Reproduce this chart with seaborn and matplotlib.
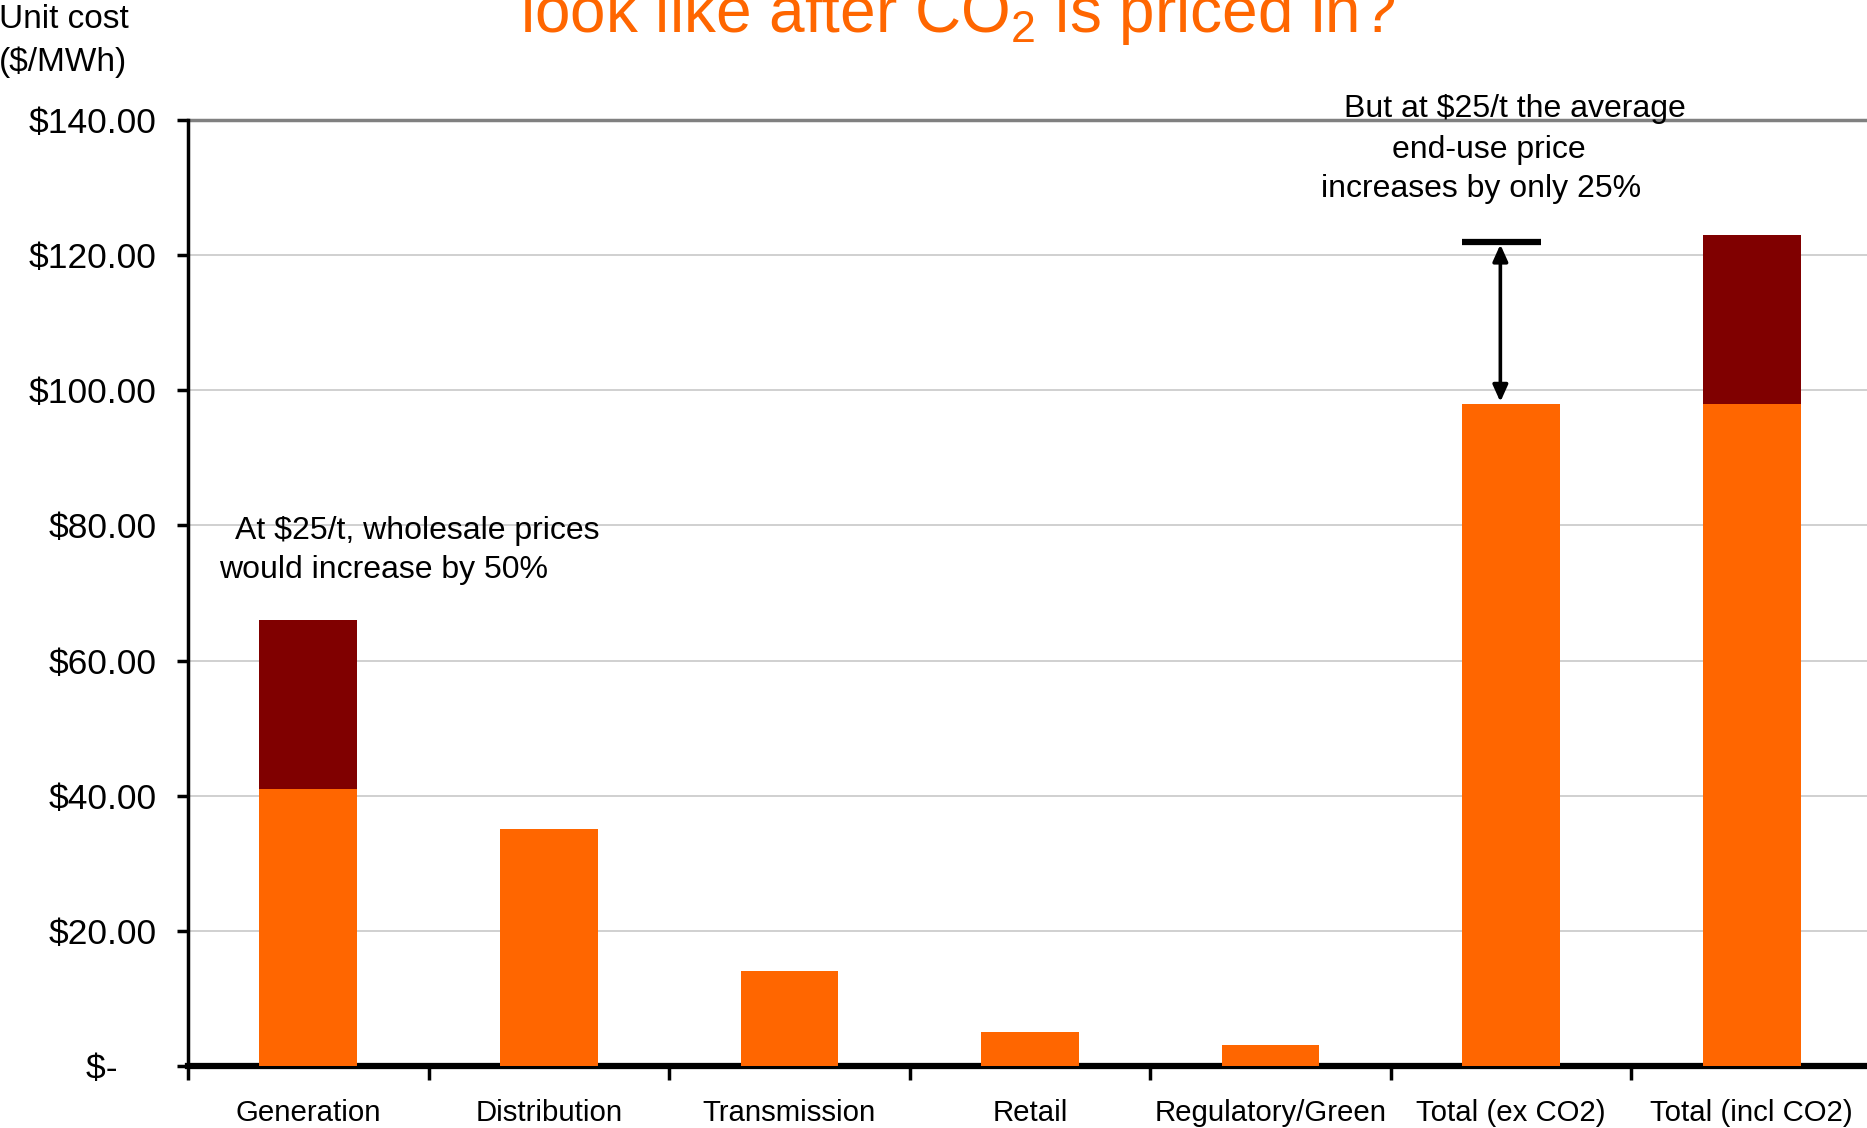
import numpy as np
import pandas as pd
import seaborn as sns
import matplotlib.pyplot as plt
from matplotlib.ticker import FixedLocator

categories = ["Generation", "Distribution", "Transmission", "Retail",
              "Regulatory/Green", "Total (ex CO2)", "Total (incl CO2)"]
base_cost = [41, 35, 14, 5, 3, 98, 98]
co2_cost = [25, 0, 0, 0, 0, 0, 25]
y_ticks = [0, 20, 40, 60, 80, 100, 120, 140]
y_labels = ["$-    ", "$20.00", "$40.00", "$60.00", "$80.00", "$100.00", "$120.00", "$140.00"]

orange = "#FF6600"
darkred = "#800000"

sns.set_style("white")
plt.rcParams["font.family"] = ["Liberation Sans", "DejaVu Sans"]
plt.rcParams["mathtext.fontset"] = "custom"
plt.rcParams["mathtext.rm"] = "Liberation Sans"
plt.rcParams["text.color"] = "black"
plt.rcParams["xtick.color"] = "black"
plt.rcParams["ytick.color"] = "black"

df = pd.DataFrame({"category": categories, "base": base_cost, "co2": co2_cost})
df["total"] = df["base"] + df["co2"]

fig = plt.figure(figsize=(18.67, 11.28), dpi=100)
ax = fig.add_axes([0.1007, 0.0552, 0.9020, 0.8382])

# stacked bars: full height in dark red, then the base in orange on top
sns.barplot(data=df, x="category", y="total", color=darkred, width=0.406,
            saturation=1, linewidth=0, ax=ax, zorder=2)
sns.barplot(data=df, x="category", y="base", color=orange, width=0.406,
            saturation=1, linewidth=0, ax=ax, zorder=3)

ax.set_xlim(-0.5, 6.5)
ax.set_ylim(0, 140)
ax.set_xlabel("")
ax.set_ylabel("")

ax.set_yticks(y_ticks)
ax.set_yticklabels(y_labels, fontsize=25.5)
ax.yaxis.grid(True, color="#c8c8c8", lw=1.2)
ax.set_axisbelow(True)
ax.axhline(140, color="#808080", lw=2.5, zorder=1, clip_on=False)

ax.xaxis.set_major_locator(FixedLocator(np.arange(-0.5, 7.0, 1.0)))
ax.xaxis.set_minor_locator(FixedLocator(np.arange(0, 7)))
ax.set_xticklabels([""] * 8)
ax.set_xticklabels(categories, minor=True, fontsize=21.2)
ax.tick_params(axis="x", which="major", direction="out", length=10, width=2.5,
               color="black", bottom=True)
ax.tick_params(axis="x", which="minor", length=0, pad=24)
ax.tick_params(axis="y", direction="out", length=8, width=2.5, color="black",
               left=True, pad=14.5)

for s in ["top", "right"]:
    ax.spines[s].set_visible(False)
ax.spines["left"].set_color("black")
ax.spines["left"].set_linewidth(2.5)
ax.spines["bottom"].set_color("black")
ax.spines["bottom"].set_linewidth(4.5)

# annotations
ax.text(-0.37, 76.3, "  At $25/t, wholesale prices\nwould increase by 50%",
        fontsize=23, ha="left", va="center", linespacing=1.38)
note_lines = ["But at $25/t the average", "end-use price", "increases by only 25%"]
note_x = [5.015, 4.905, 4.875]
note_y = [141.6, 135.6, 129.8]
for txt, nx, ny in zip(note_lines, note_x, note_y):
    ax.text(nx, ny, txt, fontsize=23, ha="center", va="center", clip_on=False)
ax.plot([4.797, 5.124], [122, 122], color="black", lw=4.5, solid_capstyle="butt")
ax.annotate("", xy=(4.955, 121.6), xytext=(4.955, 98.3),
            arrowprops=dict(arrowstyle="<|-|>,head_length=1.0,head_width=0.45",
                            color="black", lw=2.6, shrinkA=0, shrinkB=0))

# axis title and chart title (cropped at the top)
fig.text(0.034, 0.9636, "Unit cost\n($/MWh)", fontsize=24, ha="center", va="center",
         linespacing=1.45)
fig.text(0.513, 0.972, "look like after CO$_\\mathrm{2}$ is priced in?", fontsize=46,
         color=orange, ha="center", va="baseline")

fig.savefig("out.png", dpi=100)
